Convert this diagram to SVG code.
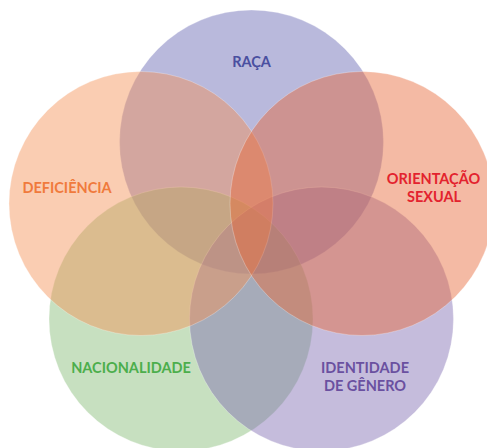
<svg xmlns="http://www.w3.org/2000/svg" width="487" height="448" viewBox="0 0 487 448">
<style>
.c{stroke:#ffffff;stroke-opacity:0.35;stroke-width:0.8;fill-opacity:0.45}
.t{font-family:Lato,"Noto Sans","Liberation Sans",sans-serif;font-weight:bold;font-size:14.5px;text-anchor:middle}
</style>
<rect width="487" height="448" fill="#ffffff"/>
<g id="raca"><circle class="c" cx="251.5" cy="142" r="132" fill="#6363b1"/></g>
<g id="nacionalidade"><circle class="c" cx="181" cy="319" r="132" fill="#82ba73"/></g>
<g id="identidade"><circle class="c" cx="321.5" cy="319" r="132" fill="#7e6ab1"/></g>
<g id="deficiencia"><circle class="c" cx="141" cy="203.5" r="132" fill="#f49054"/></g>
<g id="orientacao"><circle class="c" cx="362" cy="203.5" r="132" fill="#e76635"/></g>
<g id="labels">
<text class="t" x="251.5" y="66.5" fill="#4a4fa0">RAÇA</text>
<text class="t" x="67" y="193.3" fill="#f07a3c">DEFICIÊNCIA</text>
<text class="t" x="433.5" y="184" fill="#e3232e">ORIENTAÇÃO</text>
<text class="t" x="434" y="202.3" fill="#e3232e">SEXUAL</text>
<text class="t" x="131" y="373.3" fill="#4cae4c">NACIONALIDADE</text>
<text class="t" x="365" y="373.3" fill="#6a50a0">IDENTIDADE</text>
<text class="t" x="365" y="391" fill="#6a50a0">DE GÊNERO</text>
</g>
<g id="connectors"/>
</svg>
